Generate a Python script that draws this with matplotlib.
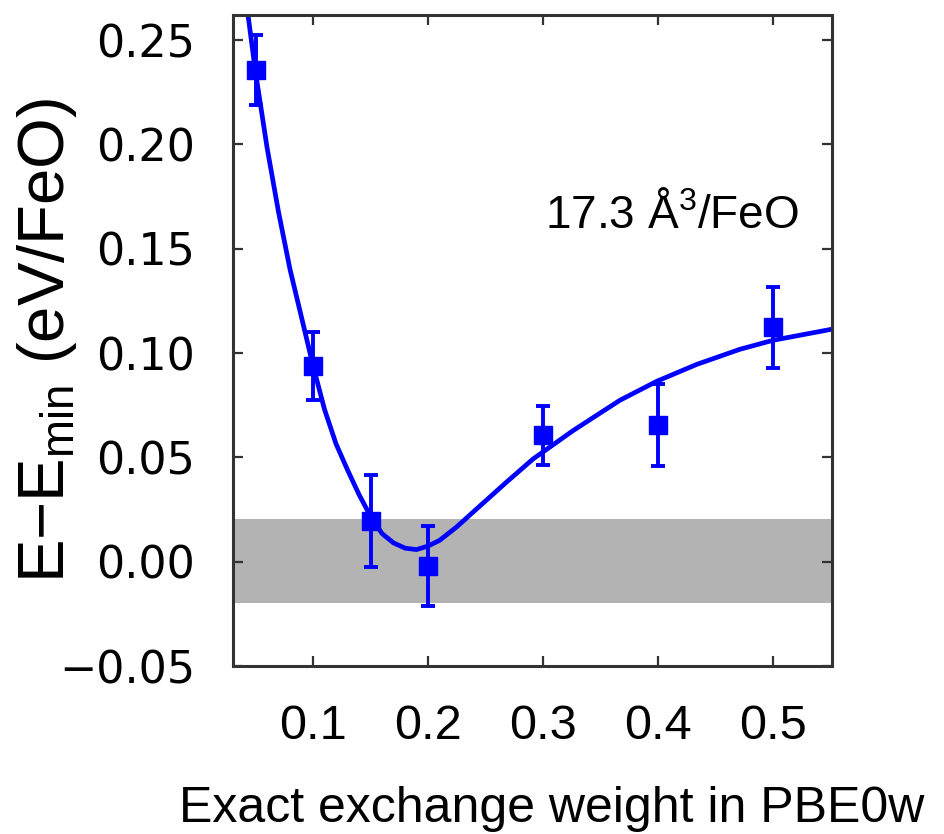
import matplotlib
matplotlib.use("Agg")
import matplotlib.pyplot as plt
from matplotlib.ticker import FuncFormatter

# Relative energy vs. exact-exchange fraction (17.3 A^3/FeO)
weights = [0.05, 0.10, 0.15, 0.20, 0.30, 0.40, 0.50]
energies = [0.2357, 0.0937, 0.0197, -0.0020, 0.0605, 0.0656, 0.1123]
errors = [0.0167, 0.0162, 0.0220, 0.0190, 0.0140, 0.0195, 0.0193]

# Fitted curve, sampled along its path
fit_x = [0.0437, 0.050, 0.060, 0.070, 0.080, 0.090, 0.100, 0.110,
         0.120, 0.130, 0.140, 0.150, 0.160, 0.170, 0.180, 0.190,
         0.200, 0.210, 0.225, 0.2423, 0.2684, 0.2913, 0.3261, 0.3496,
         0.3670, 0.3991, 0.4339, 0.4713, 0.5000, 0.5510]
fit_y = [0.2611, 0.2346, 0.1986, 0.1676, 0.1401, 0.1171, 0.0940, 0.0730,
         0.0565, 0.0440, 0.0322, 0.0218, 0.0135, 0.0090, 0.0065, 0.0058,
         0.0075, 0.0102, 0.0167, 0.0253, 0.0382, 0.0492, 0.0628, 0.0712,
         0.0774, 0.0865, 0.0946, 0.1018, 0.1061, 0.1114]

band_lo, band_hi = -0.0196, 0.0206

plt.rcParams["font.family"] = ["Liberation Sans", "DejaVu Sans"]
plt.rcParams["mathtext.fontset"] = "custom"
plt.rcParams["mathtext.rm"] = "Liberation Sans"
plt.rcParams["mathtext.it"] = "Liberation Sans:italic"

fig = plt.figure(figsize=(9.44, 8.34), dpi=100)
ax = fig.add_axes([0.2468, 0.2014, 0.6345, 0.7806])

ax.axhspan(band_lo, band_hi, color="#b3b3b3", lw=0, zorder=0)
ax.plot(fit_x, fit_y, color="#0000ff", lw=3.4, zorder=2,
        solid_joinstyle="round", solid_capstyle="round")
ax.errorbar(weights, energies, yerr=errors, fmt="s", color="#0000ff",
            markersize=13, elinewidth=2.8, capsize=5, capthick=2.8, zorder=3)

ax.text(0.3017, 0.160, "17.3 Å$^3$/FeO", fontsize=33, ha="left", va="baseline")

ax.set_xlim(0.0304, 0.5513)
ax.set_ylim(-0.05, 0.262)
ax.set_xticks([0.1, 0.2, 0.3, 0.4, 0.5])
ax.set_yticks([-0.05, 0.0, 0.05, 0.10, 0.15, 0.20, 0.25])
ax.yaxis.set_major_formatter(FuncFormatter(lambda v, pos: f"{v:.2f}".replace("-", "\u2212")))

for side in ax.spines.values():
    side.set_linewidth(2.2)
    side.set_color("#333333")
ax.tick_params(direction="in", length=7, width=1.6, color="#333333",
               top=True, right=True)
ax.tick_params(axis="x", pad=27)
ax.tick_params(axis="y", pad=27)
for lab in ax.get_yticklabels():
    lab.set_family("DejaVu Sans")
    lab.set_fontsize(32)
for lab in ax.get_xticklabels():
    lab.set_fontsize(35)

ax.set_xlabel("Exact exchange weight in PBE0w", fontsize=36)
ax.xaxis.set_label_coords(0.5326, -0.184)
ax.set_ylabel("E−E$_{\\mathrm{min}}$ (eV/FeO)", fontsize=47)
ax.yaxis.set_label_coords(-0.257, 0.5)

fig.savefig("out.png", dpi=100)
